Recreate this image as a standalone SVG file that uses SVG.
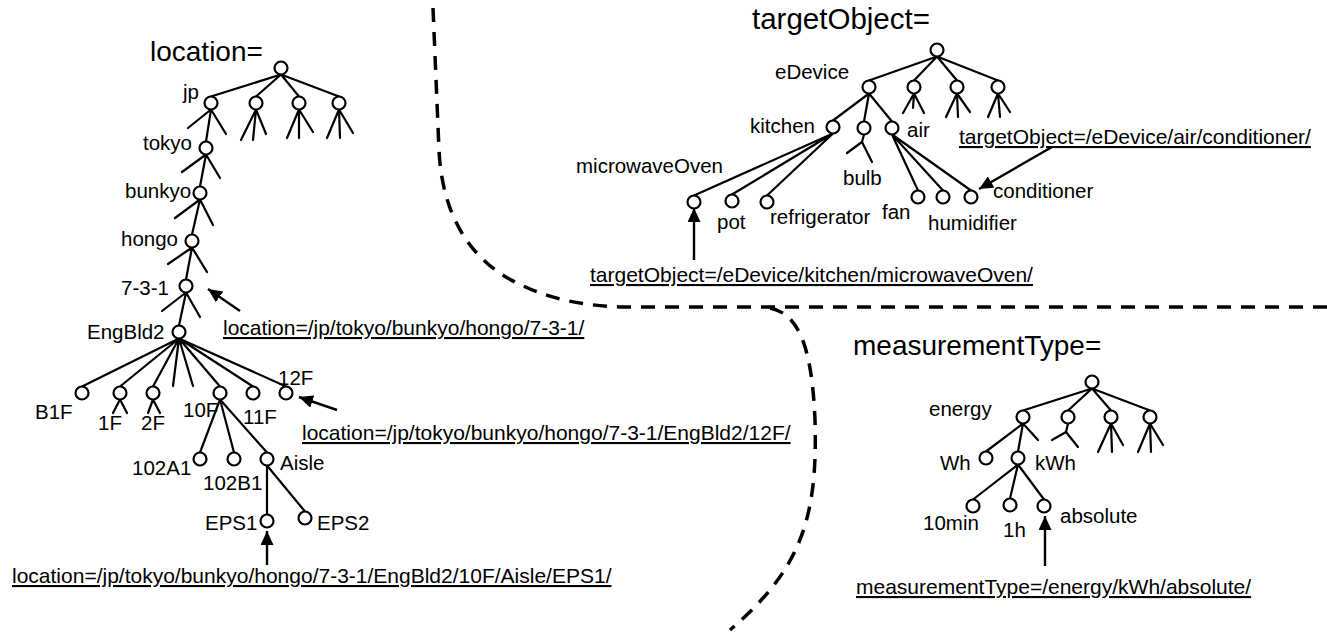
<svg xmlns="http://www.w3.org/2000/svg" width="1327" height="634" viewBox="0 0 1327 634">
<style>
.e{stroke:#000;stroke-width:2.2;fill:none;stroke-linecap:round}
.n{fill:#fff;stroke:#000;stroke-width:2.2}
.a{stroke:#000;stroke-width:2.4;fill:none}
.d{stroke:#000;stroke-width:3.5;fill:none;stroke-dasharray:14 10}
text{font-family:"Liberation Sans",Arial,sans-serif;fill:#000}
.t{font-size:20.5px}
.h{font-size:28px}
.p{font-size:21px;text-decoration:underline}
</style>
<defs>
<marker id="ah" markerUnits="userSpaceOnUse" markerWidth="15" markerHeight="13" refX="14" refY="6.5" orient="auto">
<path d="M0,0 L14,6.5 L0,13 Z" fill="#000"/>
</marker>
</defs>
<rect width="1327" height="634" fill="#fff"/>
<g id="dividers">
<path class="d" d="M433,8 L439,150 C442,215 470,260 517,283 C545,297 575,305 620,307 L1327,307"/>
<path class="d" d="M770,308 C800,314 812,350 815,420 C818,520 800,570 730,630"/>
</g>
<g id="connectors">
<path class="e" d="M281,74.5 L211,96.5 M281,74.5 L256,96.5 M281,74.5 L299,96.5 M281,74.5 L339,96.5"/>
<path class="e" d="M211,109.5 L206,141.5 M211,109.5 L188,128 M211,109.5 L226,134"/>
<path class="e" d="M206,154.5 L200,186.5 M206,154.5 L182,172 M206,154.5 L220,178"/>
<path class="e" d="M200,199.5 L192,234.5 M200,199.5 L175,218 M200,199.5 L213,225"/>
<path class="e" d="M192,247.5 L186,279.5 M192,247.5 L168,264 M192,247.5 L207,272"/>
<path class="e" d="M186,292.5 L179,325.5 M186,292.5 L162,311 M186,292.5 L200,317"/>
<path class="e" d="M256,109.5 L241,140 M256,109.5 L253,140 M256,109.5 L266,134"/>
<path class="e" d="M299,109.5 L287,138 M299,109.5 L299,138 M299,109.5 L313,132"/>
<path class="e" d="M339,109.5 L327,138 M339,109.5 L340,138 M339,109.5 L353,133"/>
<path class="e" d="M179,338.5 L82,386.5 M179,338.5 L120,386.5 M179,338.5 L153,386.5 M179,338.5 L173,386 M179,338.5 L193,386 M179,338.5 L220,386.5 M179,338.5 L253,386.5 M179,338.5 L286,386.5"/>
<path class="e" d="M120,399.5 L113,413 M120,399.5 L127,413 M153,399.5 L148,413 M153,399.5 L160,413"/>
<path class="e" d="M220,399.5 L200,452.5 M220,399.5 L234,452.5 M220,399.5 L267,452.5"/>
<path class="e" d="M267,465.5 L267,514.5 M267,465.5 L305,511.5"/>
<path class="e" d="M937,56.5 L869,80.5 M937,56.5 L914,80.5 M937,56.5 L957,80.5 M937,56.5 L998,80.5"/>
<path class="e" d="M914,93.5 L903,113 M914,93.5 L913,108 M914,93.5 L924,113"/>
<path class="e" d="M957,93.5 L946,117 M957,93.5 L958,117 M957,93.5 L970,112"/>
<path class="e" d="M998,93.5 L988,117 M998,93.5 L1000,117 M998,93.5 L1010,112"/>
<path class="e" d="M869,93.5 L833,120.5 M869,93.5 L864,121.5 M869,93.5 L892,121.5"/>
<path class="e" d="M864,134.5 L862,142 L847,153 M862,142 L872,162"/>
<path class="e" d="M833,133.5 L694,195.5 M833,133.5 L732,194.5 M833,133.5 L767,195.5"/>
<path class="e" d="M892,134.5 L918,190.5 M892,134.5 L943,190.5 M892,134.5 L971,190.5"/>
<path class="e" d="M1092,388.5 L1023,410.5 M1092,388.5 L1068,410.5 M1092,388.5 L1111,410.5 M1092,388.5 L1150,410.5"/>
<path class="e" d="M1023,423.5 L986,451.5 M1023,423.5 L1018,451.5 M1023,423.5 L1038,440"/>
<path class="e" d="M1068,423.5 L1066,432 L1052,440 M1066,432 L1078,447"/>
<path class="e" d="M1111,423.5 L1098,452 M1111,423.5 L1112,452 M1111,423.5 L1123,445"/>
<path class="e" d="M1150,423.5 L1138,452 M1150,423.5 L1151,452 M1150,423.5 L1163,445"/>
<path class="e" d="M1018,464.5 L973,499.5 M1018,464.5 L1010,498.5 M1018,464.5 L1044,499.5"/>
<path class="a" marker-end="url(#ah)" d="M240,311 L208,289"/>
<path class="a" marker-end="url(#ah)" d="M337,410 L299,397"/>
<path class="a" marker-end="url(#ah)" d="M267,565 L267,531"/>
<path class="a" marker-end="url(#ah)" d="M694,260 L694,208"/>
<path class="a" marker-end="url(#ah)" d="M1052,147 L979,189"/>
<path class="a" marker-end="url(#ah)" d="M1045,566 L1045,516"/>
</g>
<g id="loc-title"><text class="h" x="150" y="61">location=</text></g>
<g id="loc-root"><circle class="n" cx="281" cy="68" r="6.5"/></g>
<g id="loc-jp"><circle class="n" cx="211" cy="103" r="6.5"/><text class="t" x="183" y="99">jp</text></g>
<g id="loc-c2"><circle class="n" cx="256" cy="103" r="6.5"/></g>
<g id="loc-c3"><circle class="n" cx="299" cy="103" r="6.5"/></g>
<g id="loc-c4"><circle class="n" cx="339" cy="103" r="6.5"/></g>
<g id="loc-tokyo"><circle class="n" cx="206" cy="148" r="6.5"/><text class="t" x="143" y="150">tokyo</text></g>
<g id="loc-bunkyo"><circle class="n" cx="200" cy="193" r="6.5"/><text class="t" x="125" y="198">bunkyo</text></g>
<g id="loc-hongo"><circle class="n" cx="192" cy="241" r="6.5"/><text class="t" x="121" y="246">hongo</text></g>
<g id="loc-731"><circle class="n" cx="186" cy="286" r="6.5"/><text class="t" x="121" y="295">7-3-1</text></g>
<g id="loc-engbld2"><circle class="n" cx="179" cy="332" r="6.5"/><text class="t" x="87" y="339">EngBld2</text></g>
<g id="loc-b1f"><circle class="n" cx="82" cy="393" r="6.5"/><text class="t" x="35" y="419">B1F</text></g>
<g id="loc-1f"><circle class="n" cx="120" cy="393" r="6.5"/><text class="t" x="98" y="430">1F</text></g>
<g id="loc-2f"><circle class="n" cx="153" cy="393" r="6.5"/><text class="t" x="141" y="430">2F</text></g>
<g id="loc-10f"><circle class="n" cx="220" cy="393" r="6.5"/><text class="t" x="183" y="417">10F</text></g>
<g id="loc-11f"><circle class="n" cx="253" cy="393" r="6.5"/><text class="t" x="243" y="424">11F</text></g>
<g id="loc-12f"><circle class="n" cx="286" cy="393" r="6.5"/><text class="t" x="278" y="385">12F</text></g>
<g id="loc-102a1"><circle class="n" cx="200" cy="459" r="6.5"/><text class="t" x="132" y="475">102A1</text></g>
<g id="loc-102b1"><circle class="n" cx="234" cy="459" r="6.5"/><text class="t" x="203" y="490">102B1</text></g>
<g id="loc-aisle"><circle class="n" cx="267" cy="459" r="6.5"/><text class="t" x="280" y="470">Aisle</text></g>
<g id="loc-eps1"><circle class="n" cx="267" cy="521" r="6.5"/><text class="t" x="205" y="530">EPS1</text></g>
<g id="loc-eps2"><circle class="n" cx="305" cy="518" r="6.5"/><text class="t" x="317" y="530">EPS2</text></g>
<g id="loc-path1"><text class="p" x="223" y="335">location=/jp/tokyo/bunkyo/hongo/7-3-1/</text></g>
<g id="loc-path2"><text class="p" x="302" y="440">location=/jp/tokyo/bunkyo/hongo/7-3-1/EngBld2/12F/</text></g>
<g id="loc-path3"><text class="p" x="12" y="583">location=/jp/tokyo/bunkyo/hongo/7-3-1/EngBld2/10F/Aisle/EPS1/</text></g>
<g id="to-title"><text class="h" x="752" y="29" style="font-size:29.5px">targetObject=</text></g>
<g id="to-root"><circle class="n" cx="937" cy="50" r="6.5"/></g>
<g id="to-edevice"><circle class="n" cx="869" cy="87" r="6.5"/><text class="t" x="775" y="79">eDevice</text></g>
<g id="to-c2"><circle class="n" cx="914" cy="87" r="6.5"/></g>
<g id="to-c3"><circle class="n" cx="957" cy="87" r="6.5"/></g>
<g id="to-c4"><circle class="n" cx="998" cy="87" r="6.5"/></g>
<g id="to-kitchen"><circle class="n" cx="833" cy="127" r="6.5"/><text class="t" x="750" y="133">kitchen</text></g>
<g id="to-bulb"><circle class="n" cx="864" cy="128" r="6.5"/><text class="t" x="843" y="185">bulb</text></g>
<g id="to-air"><circle class="n" cx="892" cy="128" r="6.5"/><text class="t" x="907" y="137">air</text></g>
<g id="to-microwaveoven"><circle class="n" cx="694" cy="202" r="6.5"/><text class="t" x="576" y="173">microwaveOven</text></g>
<g id="to-pot"><circle class="n" cx="732" cy="201" r="6.5"/><text class="t" x="717" y="229">pot</text></g>
<g id="to-refrigerator"><circle class="n" cx="767" cy="202" r="6.5"/><text class="t" x="770" y="224">refrigerator</text></g>
<g id="to-fan"><circle class="n" cx="918" cy="197" r="6.5"/><text class="t" x="882" y="219">fan</text></g>
<g id="to-humidifier"><circle class="n" cx="943" cy="197" r="6.5"/><text class="t" x="928" y="230">humidifier</text></g>
<g id="to-conditioner"><circle class="n" cx="971" cy="197" r="6.5"/><text class="t" x="993" y="198">conditioner</text></g>
<g id="to-path1"><text class="p" x="590" y="282">targetObject=/eDevice/kitchen/microwaveOven/</text></g>
<g id="to-path2"><text class="p" x="959" y="144">targetObject=/eDevice/air/conditioner/</text></g>
<g id="mt-title"><text class="h" x="853" y="355">measurementType=</text></g>
<g id="mt-root"><circle class="n" cx="1092" cy="382" r="6.5"/></g>
<g id="mt-energy"><circle class="n" cx="1023" cy="417" r="6.5"/><text class="t" x="929" y="416">energy</text></g>
<g id="mt-c2"><circle class="n" cx="1068" cy="417" r="6.5"/></g>
<g id="mt-c3"><circle class="n" cx="1111" cy="417" r="6.5"/></g>
<g id="mt-c4"><circle class="n" cx="1150" cy="417" r="6.5"/></g>
<g id="mt-wh"><circle class="n" cx="986" cy="458" r="6.5"/><text class="t" x="940" y="470">Wh</text></g>
<g id="mt-kwh"><circle class="n" cx="1018" cy="458" r="6.5"/><text class="t" x="1035" y="470">kWh</text></g>
<g id="mt-10min"><circle class="n" cx="973" cy="506" r="6.5"/><text class="t" x="923" y="530">10min</text></g>
<g id="mt-1h"><circle class="n" cx="1010" cy="505" r="6.5"/><text class="t" x="1003" y="537">1h</text></g>
<g id="mt-absolute"><circle class="n" cx="1044" cy="506" r="6.5"/><text class="t" x="1060" y="523">absolute</text></g>
<g id="mt-path"><text class="p" x="856" y="594">measurementType=/energy/kWh/absolute/</text></g>
</svg>
